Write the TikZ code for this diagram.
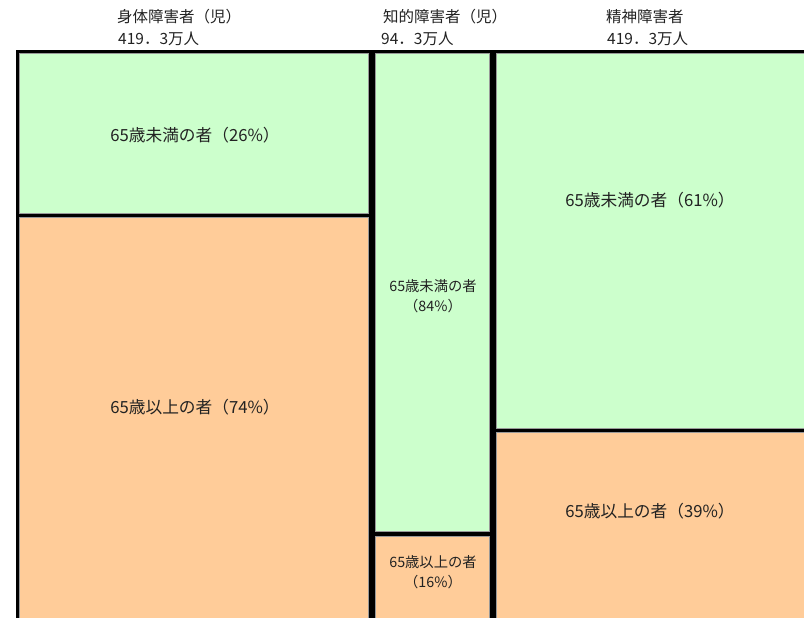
\documentclass[tikz,border=0pt]{standalone}
\usepackage{fontspec}
\setmainfont{Noto Sans CJK JP}
\definecolor{gfill}{HTML}{CCFFCC}
\definecolor{ofill}{HTML}{FFCC99}
\definecolor{txt}{HTML}{222222}
\newcommand{\cellbox}[5]{%
  \fill[#5] (#1,#2) rectangle (#3,#4);
  \draw[gray!80, line width=0.8pt] (#1+2.2,#2+2.2) rectangle (#3-2.2,#4-2.2);
  \draw[line width=3.5pt] (#1,#2) rectangle (#3,#4);}
\begin{document}
\begin{tikzpicture}[x=1pt,y=-1pt,
  hdr/.style={anchor=west, inner sep=0pt, text=txt, font=\fontsize{15.5}{17}\selectfont},
  lbl/.style={inner sep=0pt, text=txt, font=\fontsize{16.7}{19}\selectfont},
  sml/.style={inner sep=0pt, text=txt, align=center, font=\fontsize{14.3}{20}\selectfont}]
\useasboundingbox (0,0) rectangle (804,618);
\clip (0,0) rectangle (804,618);
\fill[white] (0,0) rectangle (804,618);
% boxes
\cellbox{17.5}{51.5}{371}{215.5}{gfill}
\cellbox{17.5}{215.5}{371}{650}{ofill}
\cellbox{373.5}{51.5}{492}{534}{gfill}
\cellbox{373.5}{534}{492}{650}{ofill}
\cellbox{494.5}{51.5}{840}{430.5}{gfill}
\cellbox{494.5}{430.5}{840}{650}{ofill}
% headers
\node[hdr] (h1a) at (117,17) {身体障害者（児）};
\node[hdr] (h1b) at (118,39) {419．3万人};
\node[hdr] (h2a) at (383,17) {知的障害者（児）};
\node[hdr] (h2b) at (381,39) {94．3万人};
\node[hdr] (h3a) at (606,17) {精神障害者};
\node[hdr] (h3b) at (607,39) {419．3万人};
% labels
\node[lbl] (l1) at (195,135) {65歳未満の者（26\%）};
\node[lbl] (l2) at (195,407) {65歳以上の者（74\%）};
\node[sml] (m1) at (433,296) {65歳未満の者\\（84\%）};
\node[sml] (m2) at (433,572) {65歳以上の者\\（16\%）};
\node[lbl] (r1) at (650,200) {65歳未満の者（61\%）};
\node[lbl] (r2) at (650,511) {65歳以上の者（39\%）};
\end{tikzpicture}
\end{document}
